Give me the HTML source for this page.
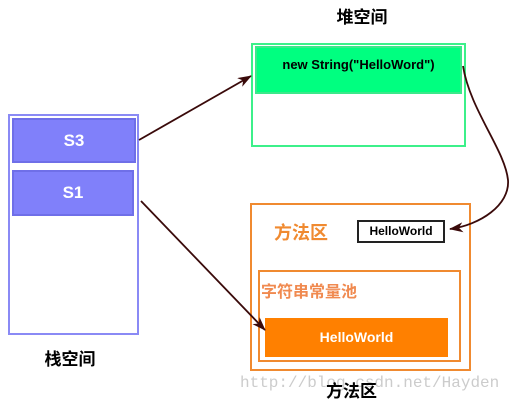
<!DOCTYPE html>
<html><head><meta charset="utf-8"><style>
body{margin:0;width:510px;height:404px;background:#fff;position:relative;overflow:hidden;font-family:"Liberation Sans","Noto Sans CJK SC",sans-serif}
div{position:absolute;box-sizing:border-box}
.t{font-weight:bold;text-align:center}
</style></head><body>
<div style="left:8px;top:114px;width:131px;height:221px;border:2px solid #8a8af5"></div>
<div style="left:12px;top:118px;width:124px;height:45px;background:#8080fa;border:2px solid #6f6fe8;color:#fff;font-size:17px;line-height:41px" class="t">S3</div>
<div style="left:12px;top:170px;width:122px;height:46px;background:#8080fa;border:2px solid #6f6fe8;color:#fff;font-size:17px;line-height:42px" class="t">S1</div>
<div style="left:0;top:345px;width:140px;font-size:17px" class="t">栈空间</div>

<div style="left:251px;top:43px;width:215px;height:104px;border:2px solid #3cf08a"></div>
<div style="left:255px;top:46px;width:207px;height:48px;background:#00ff80;border:2px solid #3ce88a;font-size:13px;line-height:34px" class="t">new String("HelloWord")</div>
<div style="left:300px;top:3px;width:124px;font-size:17px" class="t">堆空间</div>

<div style="left:250px;top:203px;width:221px;height:168px;border:2px solid #f08a30"></div>
<div style="left:258px;top:270px;width:203px;height:92px;border:2px solid #f08a30"></div>
<div style="left:265px;top:318px;width:183px;height:39px;background:#ff8000;color:#fff;font-size:14px;line-height:38px" class="t">HelloWorld</div>
<div style="left:274px;top:219px;font-size:18px;color:#f08a30" class="t">方法区</div>
<div style="left:261px;top:278px;font-size:16px;color:#f08a50" class="t">字符串常量池</div>
<div style="left:357px;top:220px;width:88px;height:23px;border:2px solid #222;font-size:12px;line-height:19px" class="t">HelloWorld</div>
<div style="left:240px;top:374px;font-family:'Liberation Mono',monospace;font-size:16px;color:#ccc;white-space:nowrap">http://blog.csdn.net/Hayden</div>
<div style="left:326px;top:377px;font-size:17px" class="t">方法区</div>

<svg width="510" height="404" style="position:absolute;left:0;top:0">
<defs><marker id="a" markerWidth="14" markerHeight="10" refX="13" refY="5" orient="auto" markerUnits="userSpaceOnUse"><path d="M0,0 L14,5 L0,10 L4,5z" fill="#3a0a0a"/></marker></defs>
<g stroke="#3a0a0a" stroke-width="1.8" fill="none">
<line x1="139" y1="140" x2="251" y2="76" marker-end="url(#a)"/>
<line x1="141" y1="201" x2="265" y2="330" marker-end="url(#a)"/>
<path d="M463,66 C470,110 505,150 508,180 C510,205 480,225 450,229" marker-end="url(#a)"/>
</g></svg>
</body></html>
